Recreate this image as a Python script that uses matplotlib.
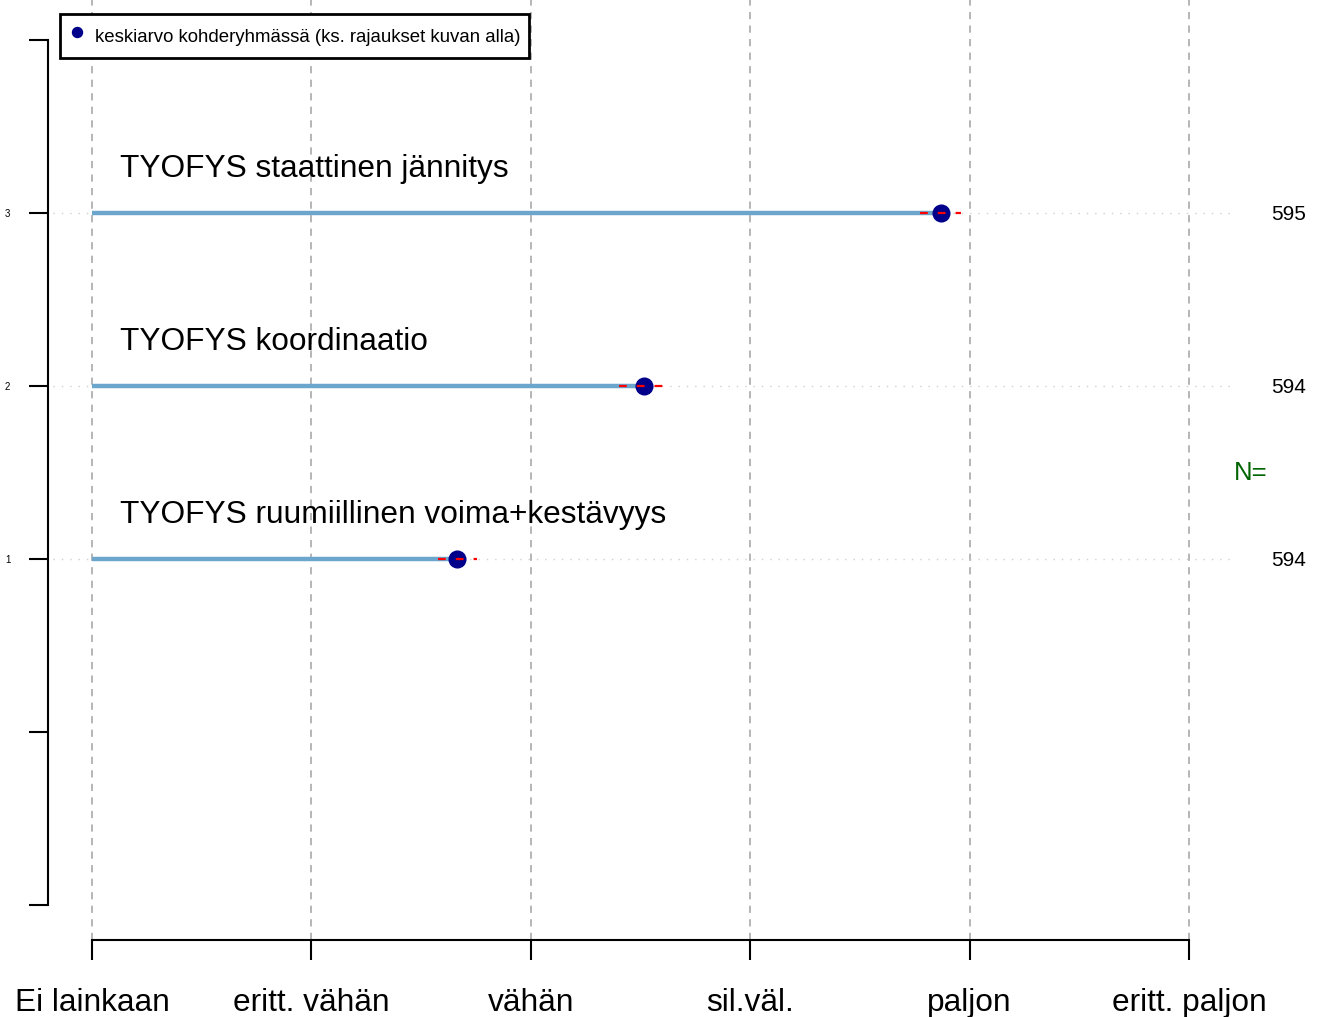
import matplotlib
matplotlib.use("Agg")
import matplotlib.pyplot as plt

plt.rcParams['font.family'] = ['Liberation Sans', 'DejaVu Sans']

# ---- data ----
labels = ["TYOFYS ruumiillinen voima+kestävyys",
          "TYOFYS koordinaatio",
          "TYOFYS staattinen jännitys"]
positions = [1, 2, 3]
means = [2.664, 3.516, 4.870]
ci_low = [2.577, 3.402, 4.774]
ci_high = [2.755, 3.639, 4.961]
n_values = ["594", "594", "595"]
scale_labels = ["Ei lainkaan", "eritt. vähän", "vähän", "sil.väl.", "paljon", "eritt. paljon"]
scale_ticks = [1, 2, 3, 4, 5, 6]
ytick_pos = [-1, 0, 1, 2, 3, 4]
ytick_lab = ["", "", "1", "2", "3", ""]
legend_label = "keskiarvo kohderyhmässä (ks. rajaukset kuvan alla)"

W, H = 1325, 1017
fig = plt.figure(figsize=(W / 100, H / 100), dpi=100)
ax = fig.add_axes([0, 0, 1, 1])
ax.patch.set_alpha(0)

# pixel-to-data calibration
px_per_x = 219.4
px_per_y = 173.0
x0_px, y3_px = 92, 213
xlim = (1 - x0_px / px_per_x, 1 + (W - x0_px) / px_per_x)
ylim = (3 - (H - y3_px) / px_per_y, 3 + y3_px / px_per_y)
ax.set_xlim(*xlim)
ax.set_ylim(*ylim)

def px2x(p):
    return 1 + (p - x0_px) / px_per_x

def py2y(p):
    return 3 - (p - y3_px) / px_per_y

bottom_y = py2y(940)
left_x = px2x(48)

# vertical dashed grid
ax.vlines(scale_ticks, bottom_y, ylim[1], colors="#b0b0b0", linewidth=1.3,
          linestyles=(0, (4, 3.5)), zorder=1)
# horizontal dotted lines
ax.hlines(positions, px2x(53), px2x(1232), colors="#cfcfcf", linewidth=1.0,
          linestyles=(0, (1, 5)), zorder=1)

# bars
for p, m in zip(positions, means):
    ax.plot([1, m], [p, p], color="#6CA6CD", linewidth=3.2, solid_capstyle="butt", zorder=2)
# points
ax.scatter(means, positions, s=12.0 ** 2, color="#00008B", zorder=3, label=legend_label)
# CI
for p, lo, hi in zip(positions, ci_low, ci_high):
    ax.plot([lo, hi], [p, p], color="#FF0000", linewidth=1.6,
            linestyle=(0, (3.5, 4.5)), zorder=4)

# category labels
for p, lab in zip(positions, labels):
    ax.text(px2x(120), p + 0.257, lab, fontsize=22.8, ha="left", va="center", zorder=5)

# N values
for p, n in zip(positions, n_values):
    ax.text(px2x(1271), p - 0.01, n, fontsize=15, ha="left", va="center")
ax.text(px2x(1251), 1.5, "N=", fontsize=18.5, color="#006400", ha="center", va="center")

# spines
for s in ["top", "right"]:
    ax.spines[s].set_visible(False)
ax.spines["left"].set_position(("data", left_x))
ax.spines["left"].set_bounds(-1, 4)
ax.spines["bottom"].set_position(("data", bottom_y))
ax.spines["bottom"].set_bounds(1, 6)
ax.spines["left"].set_linewidth(1.5)
ax.spines["bottom"].set_linewidth(1.5)

ax.set_xticks(scale_ticks)
ax.set_xticklabels(scale_labels, fontsize=22.8)
ax.set_yticks(ytick_pos)
ax.set_yticklabels(ytick_lab, fontsize=7)
ax.tick_params(axis="x", direction="out", length=14.4, width=1.5, pad=20)
ax.tick_params(axis="y", direction="out", length=13.7, width=1.5, pad=13.5)

leg = ax.legend(loc="upper left", bbox_to_anchor=(60 / W, 1 - 14 / H),
                bbox_transform=fig.transFigure, frameon=True, fancybox=False,
                fontsize=13.4, markerscale=0.6, handletextpad=0.53,
                handlelength=0.85, handleheight=1.75, borderpad=0.48,
                borderaxespad=0)
leg.get_frame().set_edgecolor("black")
leg.get_frame().set_linewidth(2.0)
leg.get_frame().set_alpha(1)

fig.savefig("out.png", dpi=100)
